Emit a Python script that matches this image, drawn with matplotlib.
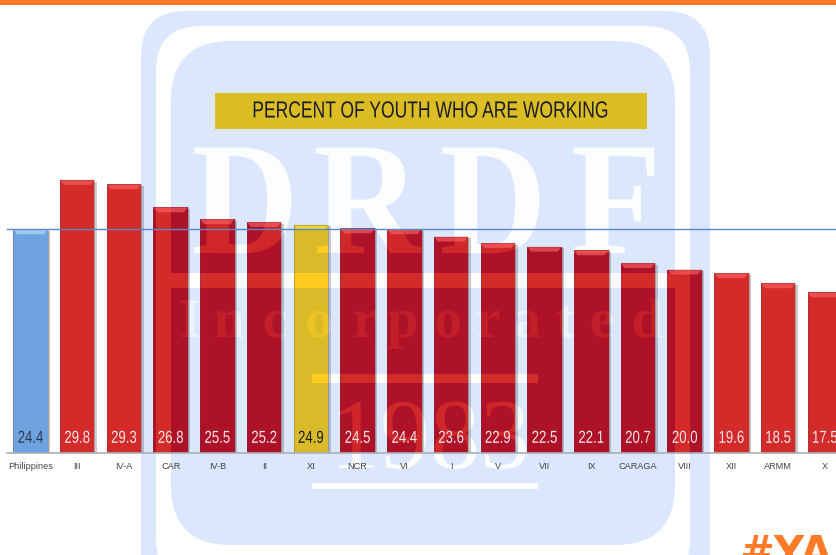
import matplotlib
matplotlib.use("Agg")
from matplotlib import pyplot as plt
from matplotlib import patheffects as pe
from matplotlib.patches import FancyBboxPatch, Rectangle, Polygon
from matplotlib.path import Path
from matplotlib.transforms import Affine2D

# data
regions = ["Philippines", "III", "IV-A", "CAR", "IV-B", "II", "XI", "NCR", "VI", "I",
           "V", "VII", "IX", "CARAGA", "VIII", "XII", "ARMM", "X"]
values = [24.4, 29.8, 29.3, 26.8, 25.5, 25.2, 24.9, 24.5, 24.4, 23.6,
          22.9, 22.5, 22.1, 20.7, 20.0, 19.6, 18.5, 17.5]
title = "PERCENT OF YOUTH WHO ARE WORKING"
national = "Philippines"
highlight = "XI"

W, H = 837, 555
BASE_PX = 452.5
PX_PER_UNIT = 9.15
STEP = 46.73
FIRST = 30.5

fig = plt.figure(figsize=(W / 100, H / 100), dpi=100, facecolor="white")
ax = fig.add_axes([0, (H - BASE_PX) / H, 1, BASE_PX / H])
ax.patch.set_visible(False)
ax.set_xlim(-FIRST / STEP, (W - FIRST) / STEP)
ax.set_ylim(0, BASE_PX / PX_PER_UNIT)
for s in ax.spines.values():
    s.set_visible(False)
ax.yaxis.set_visible(False)

# pixel coordinates for the decoration, y pointing down
px = Affine2D().scale(1, -1).translate(0, H)


class Condense(pe.AbstractPathEffect):
    # squeeze text sideways around a centre, the reference text is stretched
    def __init__(self, cx, sx):
        super().__init__()
        self.cx = cx
        self.sx = sx

    def draw_path(self, renderer, gc, tpath, affine, rgbFace=None):
        squeeze = Affine2D().translate(-self.cx, 0).scale(self.sx, 1).translate(self.cx, 0)
        renderer.draw_path(gc, tpath, affine + squeeze, rgbFace)


def add_box(x0, y0, x1, y1, color, z, round_to=0, clip=None):
    if round_to:
        p = FancyBboxPatch((x0 + round_to, y0 + round_to), x1 - x0 - 2 * round_to, y1 - y0 - 2 * round_to,
                           boxstyle="round,pad=%d,rounding_size=%d" % (round_to, round_to),
                           fc=color, ec="none", transform=px, zorder=z)
    else:
        p = Rectangle((x0, y0), x1 - x0, y1 - y0, fc=color, ec="none", transform=px, zorder=z)
    ax.add_artist(p)
    if clip is None:
        p.set_clip_on(False)
    else:
        p.set_clip_path(clip, ax.transData)


def add_mark(x, y, s, size, color, z, clip=None, alpha=1.0, sx=1.0, weight="normal"):
    t = ax.text(x, y, s, transform=px, fontsize=size, family="Liberation Serif", color=color, weight=weight,
                ha="center", va="baseline", zorder=z, alpha=alpha, path_effects=[Condense(x, sx)])
    if clip is not None:
        t.set_clip_path(clip, ax.transData)
        t.set_clip_on(True)


def watermark(fill, gap, z, clip=None):
    add_box(141, 11, 710, 620, fill, z, 45, clip)
    add_box(156, 26, 690, 585, gap, z + 0.01, 45, clip)
    add_box(171, 41, 675, 545, fill, z + 0.02, 60, clip)
    add_box(171, 273, 675, 288, gap, z + 0.03, 0, clip)
    add_box(312, 374, 538, 383, gap, z + 0.03, 0, clip)
    add_box(312, 483, 538, 489, gap, z + 0.03, 0, clip)
    for x, s in zip([245, 367, 493, 616], "DRDF"):
        add_mark(x, 253, s, 116, gap, z + 0.04, clip, 0.95, 0.92, "bold")
    for x, s in zip([190, 229, 275, 319, 365, 403, 448, 488, 527, 565, 602, 647], "Incorporated"):
        add_mark(x, 337, s, 40, gap, z + 0.04, clip, 0.55, 1.0, "bold")
    add_mark(430, 468, "1983", 72, gap, z + 0.04, clip, 0.9)


watermark("#DAE7FC", "white", 0.1)

# bars
x = [i for i in range(len(regions))]
bar_w = 34.5 / STEP
colors = []
for r in regions:
    if r == national:
        colors.append("#6FA3E0")
    elif r == highlight:
        colors.append("#FFCC1F")
    else:
        colors.append("#D32A2A")

shift = 2.5 / STEP
ax.bar([i + shift for i in x], [v - 0.2 for v in values], bar_w, color="#555555", alpha=0.3, zorder=1.5)
bars = ax.bar(x, values, bar_w, color=colors, zorder=2)


def bars_path(names):
    paths = [b.get_path().transformed(b.get_patch_transform())
             for b, r in zip(bars, regions) if r in names]
    return Path.make_compound_path(*paths)


others = [r for r in regions if r not in (national, highlight)]
watermark("#AE1228", "#D32A2A", 2.1, bars_path(others))
watermark("#D9BB2A", "#FFCC1F", 2.1, bars_path([highlight]))

# bevel on top of each bar
bevel = 5 / PX_PER_UNIT
inset = 4 / STEP
for i, (r, v) in enumerate(zip(regions, values)):
    tint = "#FF6666"
    if r == national:
        tint = "#BFE3FF"
    elif r == highlight:
        tint = "#E8F040"
    ax.add_patch(Polygon([(i - bar_w / 2, v), (i + bar_w / 2, v),
                          (i + bar_w / 2 - inset, v - bevel), (i - bar_w / 2 + inset, v - bevel)],
                         fc=tint, ec="none", alpha=0.6, zorder=3))
    ax.bar(i, v, bar_w, fc="none", ec="#6E3A48", lw=0.5, alpha=0.45, zorder=3.1)

ax.axhline(values[regions.index(national)], xmin=7 / W, color="#5B87C7", lw=1, zorder=4)
ax.axhline(0, xmin=7 / W, color="#A9AEB8", lw=1.2, zorder=4, clip_on=False)

# value labels
for i, (r, v) in enumerate(zip(regions, values)):
    c = "#F4E6E8"
    if r == national:
        c = "#2B3A4E"
    elif r == highlight:
        c = "#1C1C1C"
    cx = ax.transData.transform((i, 0))[0]
    ax.text(i, 1.55, "%.1f" % v, color=c, fontsize=12.5, family="Liberation Sans", ha="center", va="center",
            zorder=5, path_effects=[Condense(cx, 0.76)])

ax.set_xticks(x, regions, fontsize=6.6, family="Liberation Sans", color="#444444")
ax.tick_params(axis="x", length=0, pad=6.5)

# header
add_box(0, 0, W, 5, "#FF7B27", 6)
add_box(215, 93, 647, 129, "#DDBD24", 6)
ax.text(430.5, 111, title, transform=px, fontsize=16.8, family="Liberation Sans", color="#1A1D2B",
        ha="center", va="center", zorder=7, path_effects=[Condense(430.5, 0.75)])
ax.text(739, 566, "#YAF", transform=px, fontsize=30, family="DejaVu Sans", weight="bold",
        color="#FF7B27", ha="left", va="baseline", zorder=7)

fig.savefig("out.png", dpi=100)
